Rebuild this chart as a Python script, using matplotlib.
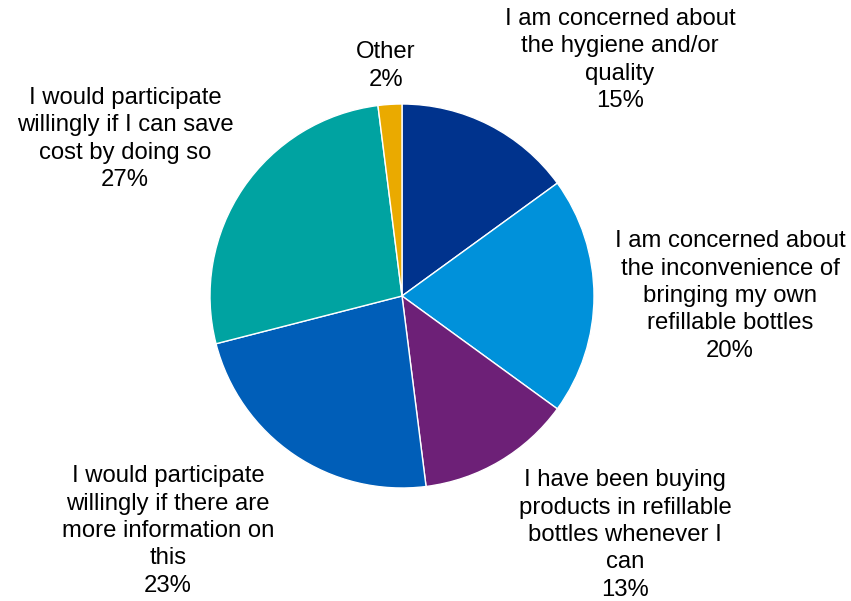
import matplotlib
matplotlib.use("Agg")
import matplotlib.pyplot as plt

# Survey responses on refillable bottles
categories = [
    "I am concerned about\nthe hygiene and/or\nquality",
    "I am concerned about\nthe inconvenience of\nbringing my own\nrefillable bottles",
    "I have been buying\nproducts in refillable\nbottles whenever I\ncan",
    "I would participate\nwillingly if there are\nmore information on\nthis",
    "I would participate\nwillingly if I can save\ncost by doing so",
    "Other",
]
shares = [15, 20, 13, 23, 27, 2]
colors = ["#00338D", "#0091DA", "#6D2077", "#005EB8", "#00A3A1", "#EAAA00"]

# label block centres in pixels (x from left, y from top)
label_px = [(620, 60), (730, 296), (625, 535), (168, 531), (125, 139), (386, 66)]

W, H, DPI = 851, 601, 100
cx, cy, R = 402, 296, 192

plt.rcParams["font.family"] = ["Liberation Sans", "DejaVu Sans"]
fig = plt.figure(figsize=(W / DPI, H / DPI), dpi=DPI)
ax = fig.add_axes([0, 0, 1, 1])

ax.pie(shares, colors=colors, startangle=90, counterclock=False, radius=1.0,
       wedgeprops=dict(edgecolor="white", linewidth=1.0))

ax.set_xlim(-cx / R, (W - cx) / R)
ax.set_ylim(-(H - cy) / R, cy / R)
ax.set_aspect("equal")
ax.axis("off")

for text, val, (px, py) in zip(categories, shares, label_px):
    x = (px - cx) / R
    y = (cy - py) / R
    ax.text(x, y, f"{text}\n{val}%", ha="center", va="center", fontsize=17.2,
            color="black", linespacing=1.32)

fig.savefig("out.png", dpi=DPI)
